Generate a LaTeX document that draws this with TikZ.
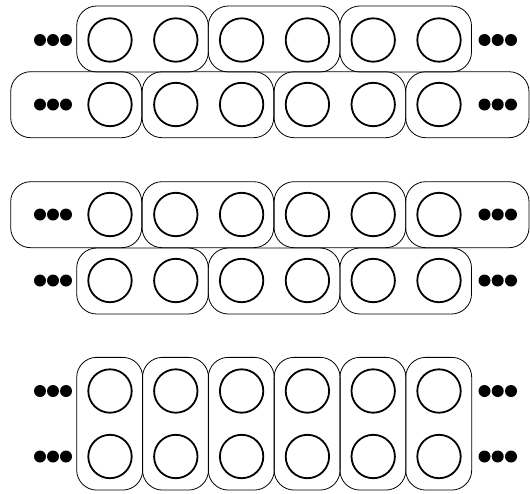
\documentclass[tikz,border=0pt]{standalone}
\begin{document}
\begin{tikzpicture}[x=1pt,y=-1pt,
  circ/.style={circle,draw,line width=1.8pt,minimum size=43.4pt,inner sep=0pt},
  grp/.style={rectangle,draw,line width=0.8pt,rounded corners=20pt,inner sep=0pt},
  dotn/.style={circle,fill,minimum size=12pt,inner sep=0pt}]
\useasboundingbox (0,0) rectangle (530,493);
% ---------- rows of circles ----------
\foreach \r/\y in {a/40,b/104.5,c/214.5,d/280.5,e/391,f/456.5}{
  \foreach \i in {0,...,5}{
    \node[circ] (\r\i) at ({110+65.8*\i},\y) {};
  }
  \node[dotn] (\r L1) at (40,\y) {};
  \node[dotn] (\r L2) at (53,\y) {};
  \node[dotn] (\r L3) at (66,\y) {};
  \node[dotn] (\r R1) at (484.5,\y) {};
  \node[dotn] (\r R2) at (497.7,\y) {};
  \node[dotn] (\r R3) at (511,\y) {};
}
% ---------- pair groups (pattern A) ----------
\foreach \r/\y in {a/39,d/281}{
  \foreach \k in {0,1,2}{
    \node[grp,minimum width=131.6pt,minimum height=66pt] (\r box\k) at ({142.5+131.6*\k},\y) {};
  }
}
% ---------- shifted groups (pattern B) ----------
\foreach \r/\y in {b/104.7,c/214.7}{
  \node[grp,minimum width=131pt,minimum height=66pt] (\r box0) at (76.2,\y) {};
  \node[grp,minimum width=131.6pt,minimum height=66pt] (\r box1) at (207.9,\y) {};
  \node[grp,minimum width=131.6pt,minimum height=66pt] (\r box2) at (339.9,\y) {};
  \node[grp,minimum width=123.3pt,minimum height=66pt] (\r box3) at (467.35,\y) {};
}
% ---------- vertical groups ----------
\foreach \i in {0,...,5}{
  \node[grp,minimum width=66pt,minimum height=132.7pt] (vbox\i) at ({109.7+65.8*\i},423.7) {};
}
\end{tikzpicture}
\end{document}
